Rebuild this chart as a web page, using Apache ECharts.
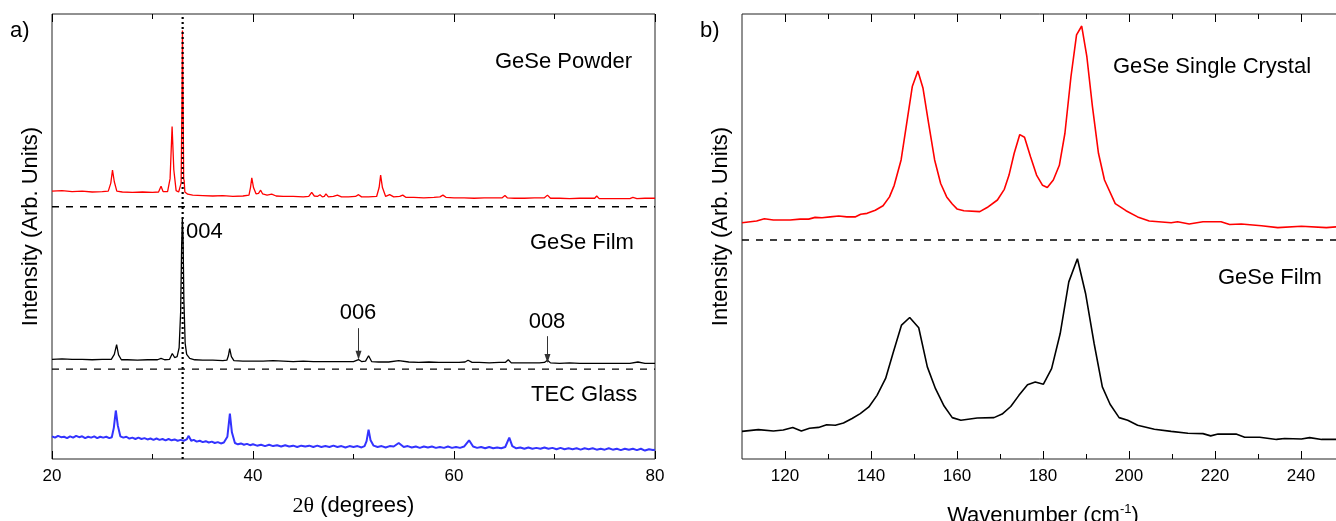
<!DOCTYPE html>
<html>
<head>
<meta charset="utf-8">
<script src="https://cdn.jsdelivr.net/npm/echarts@6/dist/echarts.min.js"></script>
<style>
html,body{margin:0;padding:0;background:#fff;}
#chart{width:1336px;height:521px;}
</style>
</head>
<body>
<div id="chart"></div>
<script>
// ---------- Data (panel a: XRD, offset-stacked intensity, arb. units) ----------
const xrdTicksMajor = [20, 40, 60, 80];
const xrdTicksMinor = [30, 50, 70];
const xrdPowder = [[20,60.2],[21,60.3],[22,60.1],[23,60.2],[24,60.0],[25,60.1],[25.6,60.2],[25.85,62.0],[26.02,64.9],[26.2,62.3],[26.45,60.2],[27,60.0],[28,59.9],[29,60.0],[30,59.9],[30.6,60.0],[30.85,61.3],[31.05,60.1],[31.5,60.1],[31.75,63.0],[31.95,74.7],[32.12,65.0],[32.35,60.3],[32.6,60.0],[32.85,62.0],[32.93,80.0],[32.98,96.3],[33.04,82.0],[33.1,63.0],[33.15,62.5],[33.22,60.0],[33.5,59.5],[34,59.3],[35,59.2],[36,59.1],[37,59.2],[38,59.0],[39,59.1],[39.6,59.3],[39.75,61.0],[39.88,63.2],[40.05,61.0],[40.3,59.6],[40.55,59.7],[40.76,60.4],[40.95,59.6],[41.4,59.3],[41.86,59.5],[42.3,59.1],[43,59.0],[44,59.0],[45,58.9],[45.55,59.0],[45.84,59.9],[46.1,59.1],[46.4,59.0],[46.67,59.4],[46.9,58.9],[47.1,59.0],[47.26,59.6],[47.5,58.9],[48,59.0],[48.4,59.3],[48.8,58.9],[49.5,58.9],[50.2,59.0],[50.5,59.4],[50.8,58.9],[51.5,58.9],[52.3,59.0],[52.55,61.0],[52.7,63.8],[52.88,61.0],[53.2,59.0],[53.6,59.4],[54.0,58.9],[54.6,59.0],[54.9,59.3],[55.2,58.8],[56,58.8],[57,58.7],[58,58.8],[58.6,58.9],[58.9,59.3],[59.2,58.8],[60,58.7],[61,58.7],[62,58.6],[63,58.7],[64,58.7],[64.8,58.7],[65.07,59.2],[65.3,58.7],[66,58.6],[67,58.6],[68,58.7],[69.0,58.7],[69.3,59.3],[69.6,58.6],[70.5,58.6],[71.5,58.5],[72.5,58.6],[73.5,58.6],[74.0,58.6],[74.2,59.1],[74.45,58.5],[75.5,58.5],[76.5,58.5],[77.5,58.5],[77.8,58.8],[78.2,58.5],[79,58.6],[80,58.6]];
const xrdFilm = [[20,22.4],[21,22.5],[22,22.4],[23,22.4],[24,22.3],[25,22.4],[25.9,22.4],[26.2,23.5],[26.43,25.7],[26.62,23.4],[26.9,22.3],[27.5,22.3],[28.5,22.2],[29.5,22.3],[30.5,22.3],[30.85,22.6],[31.2,22.3],[31.7,22.4],[31.97,23.7],[32.2,22.8],[32.45,23.0],[32.65,25.0],[32.8,33.0],[32.9,48.0],[32.97,54.1],[33.04,50.0],[33.12,36.0],[33.25,26.0],[33.4,23.5],[33.7,22.6],[34.2,22.3],[35,22.2],[36,22.2],[37,22.1],[37.4,22.2],[37.55,23.2],[37.68,24.8],[37.85,23.0],[38.1,22.1],[39,22.0],[40,22.0],[41,22.0],[42,22.1],[43,22.0],[44,21.9],[45,22.0],[46,21.9],[47,21.9],[48,21.9],[49,21.9],[50,21.9],[50.5,22.35],[50.8,21.9],[51.2,22.0],[51.5,23.2],[51.8,21.9],[52.5,21.8],[53.5,21.8],[54.5,22.1],[55.5,21.8],[56.5,21.7],[57.5,21.8],[58.5,21.7],[59.5,21.7],[60.5,21.7],[61.1,21.8],[61.4,22.2],[61.8,21.7],[62.5,21.7],[63.5,21.6],[64.5,21.7],[65.1,21.7],[65.4,22.3],[65.7,21.6],[66.5,21.6],[67.5,21.6],[68.5,21.6],[69.0,21.7],[69.3,22.2],[69.6,21.6],[70.5,21.5],[71.5,21.6],[72.5,21.5],[73.5,21.5],[74.5,21.5],[75.5,21.5],[76.5,21.5],[77.5,21.5],[78.3,21.8],[79,21.5],[80,21.5]];
const xrdGlass = [[20,5.1],[20.3,4.8],[20.6,5.2],[20.9,4.9],[21.2,5.0],[21.5,4.7],[21.8,5.1],[22.1,4.8],[22.4,5.2],[22.7,4.9],[23.0,5.1],[23.3,4.7],[23.6,5.0],[23.9,4.8],[24.2,5.1],[24.5,4.7],[24.8,5.0],[25.1,4.8],[25.4,5.0],[25.7,4.7],[25.95,4.9],[26.15,7.0],[26.35,10.9],[26.55,7.5],[26.8,5.1],[27.1,4.8],[27.4,5.0],[27.7,4.6],[28.0,4.8],[28.3,4.5],[28.6,4.8],[28.9,4.5],[29.2,4.7],[29.5,4.4],[29.8,4.6],[30.1,4.3],[30.4,4.6],[30.7,4.3],[31.0,4.5],[31.3,4.2],[31.6,4.5],[31.9,4.2],[32.2,4.4],[32.5,4.1],[32.8,4.3],[33.1,4.1],[33.4,4.4],[33.6,5.2],[33.85,4.1],[34.1,4.3],[34.4,3.9],[34.7,4.1],[35.0,3.8],[35.3,4.0],[35.6,3.7],[35.9,3.9],[36.2,3.6],[36.5,3.8],[36.8,3.5],[37.1,3.7],[37.45,5.0],[37.7,10.2],[37.9,6.0],[38.2,3.6],[38.5,3.3],[38.8,3.5],[39.1,3.2],[39.4,3.4],[39.7,3.1],[40.0,3.3],[40.4,3.0],[40.8,3.2],[41.2,2.9],[41.6,3.2],[42.0,2.9],[42.4,3.1],[42.8,2.8],[43.2,3.1],[43.6,2.8],[44.0,3.0],[44.4,2.7],[44.8,3.0],[45.2,2.8],[45.6,3.0],[46.0,2.7],[46.4,3.0],[46.8,2.7],[47.2,2.9],[47.6,2.7],[48.0,3.0],[48.4,2.7],[48.8,2.9],[49.2,2.6],[49.6,2.9],[50.0,2.7],[50.4,2.9],[50.8,2.6],[51.1,2.9],[51.3,4.0],[51.5,6.6],[51.7,4.2],[52.0,3.0],[52.4,2.7],[52.8,2.9],[53.2,2.6],[53.6,2.9],[54.0,2.8],[54.5,3.6],[55.0,2.7],[55.4,2.9],[55.8,2.6],[56.2,2.8],[56.6,2.5],[57.0,2.8],[57.4,2.6],[57.8,2.8],[58.2,2.5],[58.6,2.7],[59.0,2.5],[59.4,2.8],[59.8,2.5],[60.2,2.7],[60.6,2.5],[61.0,2.8],[61.5,4.2],[61.9,2.8],[62.3,2.5],[62.7,2.7],[63.1,2.4],[63.5,2.7],[63.9,2.4],[64.3,2.6],[64.7,2.4],[65.1,2.7],[65.5,4.8],[65.8,2.9],[66.2,2.4],[66.6,2.6],[67.0,2.3],[67.4,2.6],[67.8,2.3],[68.2,2.5],[68.6,2.3],[69.0,2.6],[69.4,2.3],[69.8,2.5],[70.2,2.2],[70.6,2.5],[71.0,2.2],[71.4,2.4],[71.8,2.2],[72.2,2.4],[72.6,2.1],[73.0,2.4],[73.4,2.2],[73.8,2.4],[74.2,2.1],[74.6,2.3],[75.0,2.1],[75.4,2.4],[75.8,2.1],[76.2,2.3],[76.6,2.0],[77.0,2.3],[77.4,2.1],[77.8,2.3],[78.2,2.0],[78.6,2.3],[79.0,1.9],[79.4,2.2],[79.8,2.0],[80,2.1]];
const xrdSeparators = [56.7, 20.2];     // dashed offset lines
const xrdRefPeak = 33.0;                 // dotted vertical line
const xrdArrows = [ {label:'006', x:50.5, from:29.4, to:23.3}, {label:'008', x:69.3, from:27.6, to:22.6} ];

// ---------- Data (panel b: Raman) ----------
const ramanTicksMajor = [120, 140, 160, 180, 200, 220, 240];
const ramanTicksMinor = [130, 150, 170, 190, 210, 230, 250];
const ramanCrystal = [[110,53.1],[113.4,53.5],[115.2,54.0],[117.3,53.7],[121.2,53.7],[123.5,53.9],[125.5,53.9],[127.0,54.3],[128.6,54.2],[130.5,54.4],[132.5,54.6],[134.4,54.4],[136.3,54.4],[137.6,55.0],[139.1,55.2],[141.0,55.9],[142.8,56.9],[144.3,58.9],[145.4,61.5],[147.0,67.2],[148.3,75.4],[149.6,83.7],[150.9,87.2],[152.1,83.3],[153.4,75.4],[154.8,67.2],[156.2,61.9],[157.6,58.9],[158.9,57.3],[160.0,56.2],[161.6,55.8],[165.3,55.6],[167.0,56.5],[169.4,58.2],[171.0,60.6],[172.1,63.8],[173.3,68.7],[174.6,72.9],[175.7,72.3],[177.1,67.9],[178.5,63.8],[179.9,61.5],[181.0,61.0],[182.4,62.7],[183.8,66.0],[185.1,73.2],[186.5,85.9],[187.8,95.3],[189.0,97.3],[190.2,90.4],[191.5,79.2],[192.9,68.7],[194.3,62.7],[196.8,57.4],[199.3,55.8],[202.0,54.4],[204.7,53.5],[209.8,53.1],[211.3,53.3],[214.0,52.8],[217.2,53.3],[221.4,53.3],[223.4,52.7],[226.1,52.8],[230.8,52.4],[234.6,52.0],[240.1,52.3],[245.9,52.0],[248.5,52.2],[250,52.1]];
const ramanFilm = [[110,6.2],[113.8,6.6],[117.3,6.3],[119.6,6.5],[121.8,7.1],[123.8,6.3],[125.7,6.9],[127.8,7.1],[129.7,7.7],[131.7,7.6],[133.6,8.1],[135.6,9.1],[137.5,10.2],[139.5,11.7],[141.4,14.3],[143.4,18.1],[145.1,23.7],[147.1,30.1],[149.0,31.8],[151.1,29.5],[153.1,20.7],[155.0,15.8],[157.0,11.9],[158.9,9.3],[160.9,8.7],[164.7,9.2],[168.6,9.3],[170.5,10.1],[172.5,11.8],[174.4,14.3],[176.4,16.7],[178.2,17.3],[180.1,16.8],[182.0,20.3],[184.0,28.2],[186.0,39.8],[188.0,45.0],[189.9,37.2],[191.9,25.9],[193.8,16.2],[195.6,12.3],[197.7,9.3],[199.7,8.7],[202.0,7.6],[205.9,6.7],[209.8,6.2],[213.7,5.8],[217.2,5.7],[219.0,5.2],[220.7,5.6],[224.9,5.6],[226.9,4.9],[230.4,4.9],[234.3,4.4],[236.2,4.6],[240.1,4.5],[242.0,4.8],[244.8,4.4],[248.5,4.4],[250,4.4]];
const ramanSeparator = 49.2;

// ---------- Chart ----------
const FONT = 'Liberation Sans, Arial, sans-serif';
const chart = echarts.init(document.getElementById('chart'), null, {renderer: 'canvas'});

function tickAxis(grid, min, max, pos, values, len, labels, extra) {
  return Object.assign({
    type: 'value', gridIndex: grid, min: min, max: max, position: pos,
    axisLine: {show: false},
    splitLine: {show: false},
    axisTick: {show: true, inside: true, length: len, customValues: values, lineStyle: {color: '#000', width: 1}},
    axisLabel: labels ? {show: true, customValues: values, color: '#000', fontSize: 17, fontFamily: FONT, margin: 9}
                      : {show: false, customValues: values}
  }, extra || {});
}

const xAxes = [
  tickAxis(0, 20, 80, 'bottom', xrdTicksMajor, 8, true, {
    name: '{s|2θ} (degrees)', nameLocation: 'middle', nameGap: 36,
    nameTextStyle: {fontSize: 22, fontFamily: FONT, color: '#000', rich: {s: {fontSize: 22, fontFamily: 'Liberation Serif, Times New Roman, serif', color: '#000'}}}
  }),
  tickAxis(0, 20, 80, 'bottom', xrdTicksMinor, 5, false),
  tickAxis(0, 20, 80, 'top', xrdTicksMajor, 8, false),
  tickAxis(0, 20, 80, 'top', xrdTicksMinor, 5, false),
  tickAxis(1, 110, 250, 'bottom', ramanTicksMajor, 8, true, {
    name: 'Wavenumber (cm{sup|-1})', nameLocation: 'middle', nameGap: 44,
    nameTextStyle: {fontSize: 22, fontFamily: FONT, color: '#000', lineHeight: 26, rich: {sup: {fontSize: 13, fontFamily: FONT, color: '#000', verticalAlign: 'top', lineHeight: 26}}}
  }),
  tickAxis(1, 110, 250, 'bottom', ramanTicksMinor, 5, false),
  tickAxis(1, 110, 250, 'top', ramanTicksMajor, 8, false),
  tickAxis(1, 110, 250, 'top', ramanTicksMinor, 5, false)
];

function yAx(grid) {
  return {
    type: 'value', gridIndex: grid, min: 0, max: 100,
    axisLine: {show: false}, axisTick: {show: false}, axisLabel: {show: false}, splitLine: {show: false},
    name: 'Intensity (Arb. Units)', nameLocation: 'middle', nameGap: 10, nameRotate: 90,
    nameTextStyle: {fontSize: 22, fontFamily: FONT, color: '#000', padding: [0, 0, 0, 20]}
  };
}

function hLine(xi, yi, x0, x1, y) {
  return {type: 'line', xAxisIndex: xi, yAxisIndex: yi, data: [[x0, y], [x1, y]], symbol: 'none', silent: true,
          lineStyle: {color: '#000', width: 1.4, type: [7, 7]}, z: 3};
}

const series = [
  {type: 'line', name: 'GeSe Powder', xAxisIndex: 0, yAxisIndex: 0, data: xrdPowder, symbol: 'none', lineStyle: {color: '#ff0000', width: 1.3}, z: 4},
  {type: 'line', name: 'GeSe Film', xAxisIndex: 0, yAxisIndex: 0, data: xrdFilm, symbol: 'none', lineStyle: {color: '#000', width: 1.3}, z: 4},
  {type: 'line', name: 'TEC Glass', xAxisIndex: 0, yAxisIndex: 0, data: xrdGlass, symbol: 'none', lineStyle: {color: '#3333ff', width: 2}, z: 4},
  hLine(0, 0, 20, 80, xrdSeparators[0]),
  hLine(0, 0, 20, 80, xrdSeparators[1]),
  {type: 'line', xAxisIndex: 0, yAxisIndex: 0, data: [[xrdRefPeak, 0], [xrdRefPeak, 100]], symbol: 'none', silent: true,
   lineStyle: {color: '#000', width: 2.2, type: [2, 3]}, z: 5},
  {type: 'line', xAxisIndex: 0, yAxisIndex: 0, data: [], symbol: 'none', silent: true,
   markLine: {silent: true, symbol: ['none', 'triangle'], symbolSize: [6, 9], animation: false,
     label: {show: false}, lineStyle: {color: '#333', width: 1, type: 'solid'},
     data: xrdArrows.map(a => [{coord: [a.x, a.from]}, {coord: [a.x, a.to]}])}},
  {type: 'line', name: 'GeSe Single Crystal', xAxisIndex: 4, yAxisIndex: 1, data: ramanCrystal, symbol: 'none', lineStyle: {color: '#ff0000', width: 1.6}, z: 4},
  {type: 'line', name: 'GeSe Film (Raman)', xAxisIndex: 4, yAxisIndex: 1, data: ramanFilm, symbol: 'none', lineStyle: {color: '#000', width: 1.6}, z: 4},
  hLine(4, 1, 110, 250, ramanSeparator)
];

function txt(x, y, s, align) {
  return {type: 'text', x: x, y: y, silent: true, z: 10,
          style: {text: s, fontSize: 22, fontFamily: FONT, fill: '#000', align: align || 'left', verticalAlign: 'middle'}};
}

chart.setOption({
  animation: false,
  backgroundColor: '#fff',
  grid: [
    {left: 52, right: 681, top: 14, bottom: 62, outerBoundsMode: 'none', containLabel: false, show: true, borderColor: '#222', borderWidth: 1, backgroundColor: 'transparent'},
    {left: 742, right: -8, top: 14, bottom: 62, outerBoundsMode: 'none', containLabel: false, show: true, borderColor: '#222', borderWidth: 1, backgroundColor: 'transparent'}
  ],
  xAxis: xAxes,
  yAxis: [yAx(0), yAx(1)],
  series: series,
  graphic: [
    txt(10, 31, 'a)'),
    txt(700, 31, 'b)'),
    txt(495, 62, 'GeSe Powder'),
    txt(530, 243, 'GeSe Film'),
    txt(531, 395, 'TEC Glass'),
    txt(186, 232, '004'),
    txt(358, 313, '006', 'center'),
    txt(547, 322, '008', 'center'),
    txt(1113, 67, 'GeSe Single Crystal'),
    txt(1218, 278, 'GeSe Film')
  ]
});
</script>
</body>
</html>
